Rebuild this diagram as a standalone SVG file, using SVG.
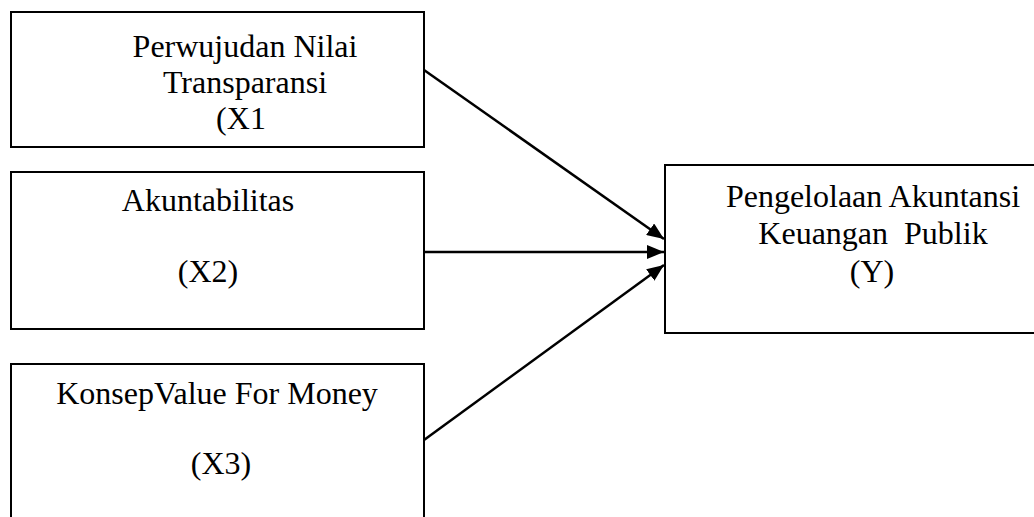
<svg xmlns="http://www.w3.org/2000/svg" width="1034" height="517" viewBox="0 0 1034 517">
<style>
.box{fill:#fff;stroke:#000;stroke-width:2}
.t{font-family:"Liberation Serif","Times New Roman",serif;font-size:32px;fill:#000;text-anchor:middle}
.c{stroke:#000;stroke-width:2.5;fill:none;marker-end:url(#ah)}
</style>
<defs>
<marker id="ah" markerUnits="userSpaceOnUse" markerWidth="18" markerHeight="14" refX="17" refY="7" orient="auto">
<path d="M0,0 L17,7 L0,14 Z" fill="#000"/>
</marker>
</defs>
<rect width="1034" height="517" fill="#fff"/>
<g id="x1">
<rect class="box" x="11" y="12" width="413" height="135"/>
<text class="t" x="245" y="57">Perwujudan Nilai</text>
<text class="t" x="245" y="93">Transparansi</text>
<text class="t" x="241" y="129">(X1</text>
</g>
<g id="x2">
<rect class="box" x="11" y="172" width="413" height="157"/>
<text class="t" x="208" y="211">Akuntabilitas</text>
<text class="t" x="208" y="282">(X2)</text>
</g>
<g id="x3">
<rect class="box" x="11" y="364" width="413" height="170"/>
<text class="t" x="217" y="404">KonsepValue For Money</text>
<text class="t" x="221" y="474">(X3)</text>
</g>
<g id="y">
<rect class="box" x="665" y="165" width="380" height="168"/>
<text class="t" x="873" y="207">Pengelolaan Akuntansi</text>
<text class="t" x="873" y="244" xml:space="preserve">Keuangan  Publik</text>
<text class="t" x="872" y="282">(Y)</text>
</g>
<g id="connectors">
<line class="c" x1="424" y1="70" x2="664" y2="239"/>
<line class="c" x1="424" y1="252" x2="664" y2="252"/>
<line class="c" x1="424" y1="440" x2="664" y2="265"/>
</g>
</svg>
